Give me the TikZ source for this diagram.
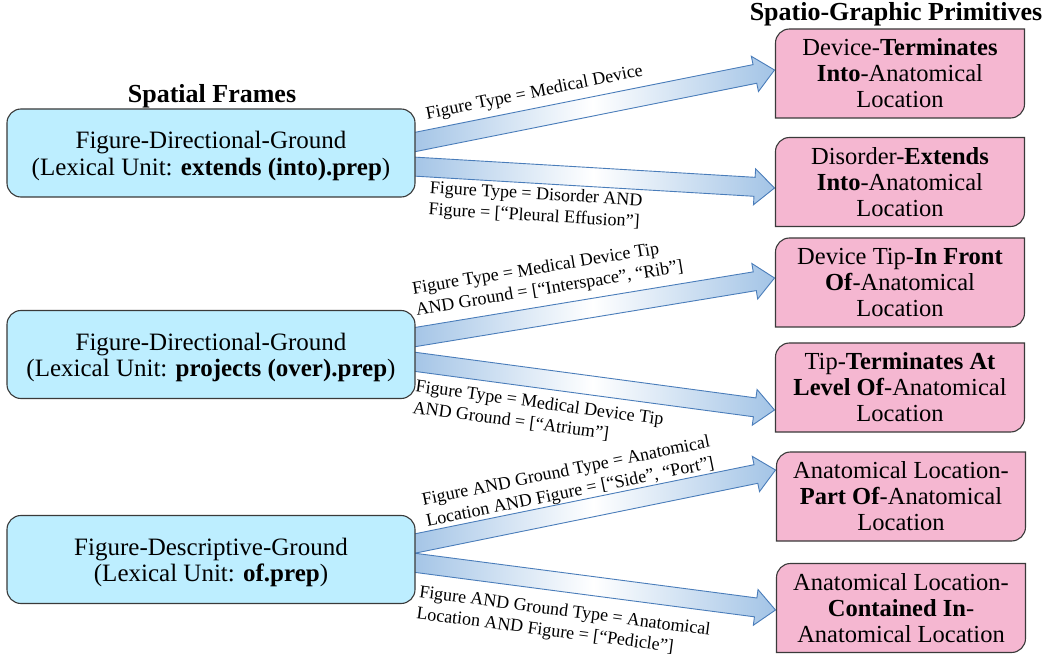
\documentclass[tikz,border=0pt]{standalone}
\usepackage{fontspec}
\setmainfont{Liberation Serif}
\usetikzlibrary{calc}
\pgfdeclarelayer{arrows}
\pgfdeclarelayer{boxes}
\pgfsetlayers{arrows,boxes,main}
\definecolor{framefill}{HTML}{BDEEFF}
\definecolor{primfill}{HTML}{F5B7D1}
\definecolor{boxline}{HTML}{3A3A3A}
\definecolor{ablue}{HTML}{A3C4E6}
\definecolor{aline}{HTML}{4A7DBA}
\newcommand\fsz[2]{\fontsize{#1}{#2}\selectfont}
\newcommand\lowstrut{\rule{0pt}{23pt}}
\newcommand\blockarrow[3]{%
  \coordinate (#1s) at #2;
  \coordinate (#1e) at #3;
  \coordinate (#1b) at ($(#1e)!20pt!(#1s)$);
  \shadedraw[arrowbody] ($(#1s)!9.5pt!90:(#1e)$) -- ($(#1b)!9.5pt!90:(#1e)$) -- ($(#1b)!18pt!90:(#1e)$) -- (#1e) -- ($(#1b)!18pt!-90:(#1e)$) -- ($(#1b)!9.5pt!-90:(#1e)$) -- ($(#1s)!9.5pt!-90:(#1e)$) -- cycle;}
\newcommand\primshape[1]{%
  \draw[primbox] (#1.south west) -- ([yshift=-14pt]#1.north west) arc[start angle=180,end angle=90,radius=14pt] -- (#1.north east) -- ([yshift=14pt]#1.south east) arc[start angle=0,end angle=-90,radius=14pt] -- cycle;}
\begin{document}
\begin{tikzpicture}[x=1pt,y=1pt,
  frame/.style={draw=boxline, line width=1.1pt, fill=framefill, rounded corners=14pt, minimum width=408pt, minimum height=88pt, align=center, inner sep=0pt, font=\fsz{25}{26.5}},
  prim/.style={minimum width=249pt, minimum height=89pt, align=center, inner sep=0pt, outer sep=0pt, font=\fsz{24.5}{26}},
  primbox/.style={draw=boxline, line width=1.1pt, fill=primfill},
  arrowbody/.style={draw=aline, line width=0.9pt, left color=ablue, right color=ablue, middle color=white},
  lab/.style={font=\fsz{18}{21.5}, align=left, inner sep=1pt, sloped},
  title/.style={font=\fsz{26}{28}\bfseries, anchor=base}]
\useasboundingbox (0,0) rectangle (1050,-660);

% titles
\node[title] (t1) at (212,-103) {Spatial Frames};
\node[title] (t2) at (896,-21) {Spatio-Graphic Primitives};

% spatial frames
\node[frame] (f1) at (211,-153) {\lowstrut Figure-Directional-Ground\\(Lexical Unit: \textbf{extends (into).prep})};
\node[frame] (f2) at (211,-354.5) {\lowstrut Figure-Directional-Ground\\(Lexical Unit: \textbf{projects (over).prep})};
\node[frame] (f3) at (211,-559.5) {\lowstrut Figure-Descriptive-Ground\\(Lexical Unit: \textbf{of.prep})};

% primitives
\node[prim] (p1) at (900,-73.5) {Device-\textbf{Terminates}\\\textbf{Into}-Anatomical\\Location};
\node[prim] (p2) at (900,-182) {Disorder-\textbf{Extends}\\\textbf{Into}-Anatomical\\Location};
\node[prim] (p3) at (900,-282.5) {Device Tip-\textbf{In Front}\\\textbf{Of}-Anatomical\\Location};
\node[prim] (p4) at (900,-387.5) {Tip-\textbf{Terminates At}\\\textbf{Level Of}-Anatomical\\Location};
\node[prim] (p5) at (901,-496.5) {Anatomical Location-\\\textbf{Part Of}-Anatomical\\Location};
\node[prim] (p6) at (901,-608) {Anatomical Location-\\\textbf{Contained In}-\\Anatomical Location};

\begin{pgfonlayer}{arrows}
  \fill[white] (0,0) rectangle (1050,-660);
  \blockarrow{a1}{([xshift=-3pt,yshift=10.5pt]f1.east)}{([xshift=-1pt,yshift=3.5pt]p1.west)}
  \blockarrow{a2}{([xshift=-3pt,yshift=-13.5pt]f1.east)}{([xshift=-1pt,yshift=-6pt]p2.west)}
  \blockarrow{a3}{([xshift=-3pt,yshift=17pt]f2.east)}{([xshift=-1pt,yshift=4.5pt]p3.west)}
  \blockarrow{a4}{([xshift=-3pt,yshift=-7pt]f2.east)}{([xshift=-1pt,yshift=-22.5pt]p4.west)}
  \blockarrow{a5}{([xshift=-3pt,yshift=15.5pt]f3.east)}{([xshift=-1pt,yshift=26.5pt]p5.west)}
  \blockarrow{a6}{([xshift=-3pt,yshift=-3pt]f3.east)}{([xshift=-1pt,yshift=-2pt]p6.west)}
\end{pgfonlayer}

\begin{pgfonlayer}{boxes}
  \primshape{p1}
  \primshape{p2}
  \primshape{p3}
  \primshape{p4}
  \primshape{p5}
  \primshape{p6}
\end{pgfonlayer}

% labels
\path (a1s) -- (a1e) node[lab, pos=.35, above=15pt] (l1) {Figure Type = Medical Device};
\path (a2s) -- (a2e) node[lab, pos=.345, below=12pt] (l2) {Figure Type = Disorder AND\\Figure = [“Pleural Effusion”]};
\path (a3s) -- (a3e) node[lab, pos=.39, above=16pt] (l3) {Figure Type = Medical Device Tip\\AND Ground = [“Interspace”, “Rib”]};
\path (a4s) -- (a4e) node[lab, pos=.36, below=16pt] (l4) {Figure Type = Medical Device Tip\\AND Ground = [“Atrium”]};
\path (a5s) -- (a5e) node[lab, pos=.445, above=9pt] (l5) {Figure AND Ground Type = Anatomical\\Location AND Figure = [“Side”, “Port”]};
\path (a6s) -- (a6e) node[lab, pos=.43, below=20pt] (l6) {Figure AND Ground Type = Anatomical\\Location AND Figure = [“Pedicle”]};
\end{tikzpicture}
\end{document}
